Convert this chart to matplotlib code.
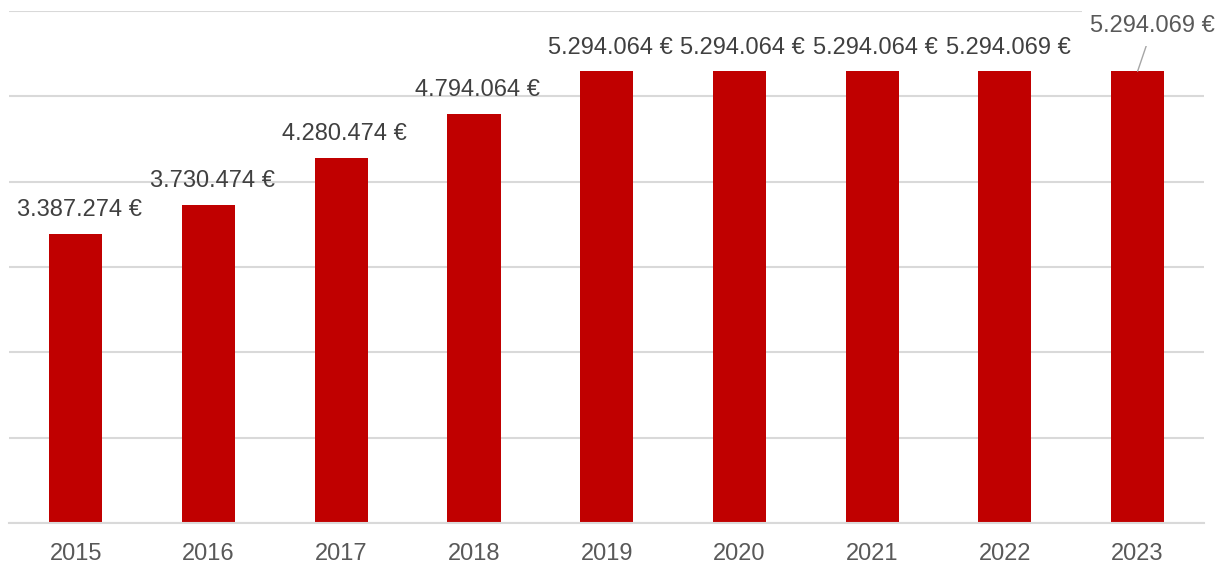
import matplotlib.pyplot as plt

plt.rcParams['font.family'] = ['Liberation Sans', 'DejaVu Sans']

years = ["2015", "2016", "2017", "2018", "2019", "2020", "2021", "2022", "2023"]
values = [3387274, 3730474, 4280474, 4794064, 5294064, 5294064, 5294064, 5294069, 5294069]


def euro(v):
    return f"{v:,}".replace(",", ".") + " €"


fig = plt.figure(figsize=(12.17, 5.64), dpi=100)
ax = fig.add_axes([0.0078, 0.0727, 0.9815, 0.9078])

x = range(len(years))
ax.bar(x, values, width=0.4, color="#c00000", zorder=2)

ax.set_xlim(-0.5, len(years) - 0.5)
ax.set_ylim(0, 6000000)
ax.set_yticks(range(0, 6000001, 1000000))
ax.yaxis.grid(True, color="#d9d9d9", linewidth=1.5, zorder=0)
ax.set_axisbelow(True)
ax.tick_params(axis="y", left=False, labelleft=False)
ax.set_xticks(list(x))
ax.set_xticklabels(years)
ax.tick_params(axis="x", length=0, pad=14.5, labelsize=17, labelcolor="#595959")
for s in ["top", "right", "left"]:
    ax.spines[s].set_visible(False)
ax.spines["bottom"].set_color("#d9d9d9")
ax.spines["bottom"].set_linewidth(1.5)

for i, v in enumerate(values):
    if i == len(values) - 1:
        ax.annotate(euro(v), xy=(i, v), xytext=(11, 32.4), textcoords="offset points",
                    ha="center", va="center", fontsize=17, color="#595959",
                    bbox=dict(facecolor="white", edgecolor="none", pad=6),
                    arrowprops=dict(arrowstyle="-", color="#a6a6a6", lw=1,
                                    shrinkA=0, shrinkB=0), zorder=3)
    else:
        ax.annotate(euro(v), xy=(i, v), xytext=(2.5, 17), textcoords="offset points",
                    ha="center", va="center", fontsize=17, color="#404040", zorder=3)

fig.savefig("out.png", dpi=100)
